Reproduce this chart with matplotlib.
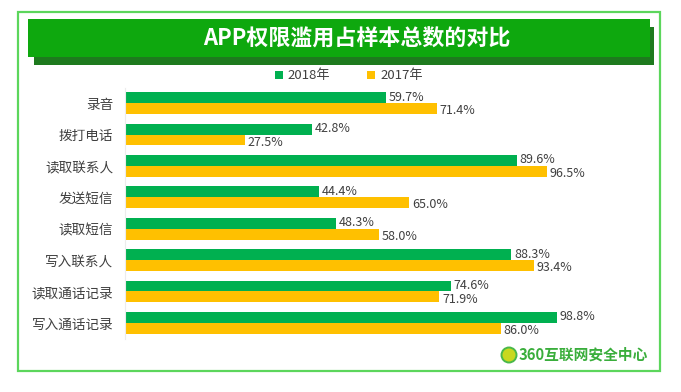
import matplotlib.pyplot as plt
from matplotlib.patches import Rectangle, Circle
import numpy as np

plt.rcParams['font.family'] = ['Noto Sans CJK SC', 'DejaVu Sans']

categories = ['录音', '拨打电话', '读取联系人', '发送短信', '读取短信',
              '写入联系人', '读取通话记录', '写入通话记录']
vals_2018 = [59.7, 42.8, 89.6, 44.4, 48.3, 88.3, 74.6, 98.8]
vals_2017 = [71.4, 27.5, 96.5, 65.0, 58.0, 93.4, 71.9, 86.0]
series_names = ['2018年', '2017年']

GREEN = '#00b050'
GOLD = '#ffc000'
TXT = '#404040'

W, H = 681, 392
fig = plt.figure(figsize=(W / 100, H / 100), dpi=100)


def fx(px):
    return px / W


def fy(py):
    return 1 - py / H


# frame, banner and its shadow (figure coords from pixel positions)
fig.patches.append(Rectangle((fx(18), fy(371)), fx(660 - 18), (371 - 12) / H,
                             transform=fig.transFigure, fill=False,
                             edgecolor='#5cd65c', linewidth=1.6))
fig.patches.append(Rectangle((fx(34), fy(65)), fx(654 - 34), (65 - 27) / H,
                             transform=fig.transFigure, facecolor='#1e7a1e',
                             edgecolor='none'))
fig.patches.append(Rectangle((fx(28), fy(57)), fx(650 - 28), (57 - 19) / H,
                             transform=fig.transFigure, facecolor='#0ea80e',
                             edgecolor='none'))
fig.text(fx(357), fy(39), 'APP权限滥用占样本总数的对比', color='white',
         fontsize=15.8, fontweight='bold', ha='center', va='center')

# bars
top, bottom = 87.5, 338.5
ax = fig.add_axes([fx(124.5), fy(bottom), 4.38 * 120 / W, (bottom - top) / H])
y = np.arange(len(categories))
h = 0.345
ax.barh(y - h / 2, vals_2018, height=h, color=GREEN, label=series_names[0])
ax.barh(y + h / 2, vals_2017, height=h, color=GOLD, label=series_names[1])

for yi, v in zip(y, vals_2018):
    ax.text(v + 0.6, yi - h / 2 - 0.02, f'{v:.1f}%', va='center', ha='left',
            fontsize=9, color=TXT)
for yi, v in zip(y, vals_2017):
    ax.text(v + 0.6, yi + h / 2 + 0.07, f'{v:.1f}%', va='center', ha='left',
            fontsize=9, color=TXT)

ax.set_xlim(0, 120)
ax.set_ylim(len(categories) - 0.5, -0.5)
ax.set_yticks(y)
ax.set_yticklabels(categories, fontsize=9.8, color=TXT)
ax.set_xticks([])
ax.tick_params(axis='y', length=0, pad=8)
for s in ['top', 'right', 'bottom']:
    ax.spines[s].set_visible(False)
ax.spines['left'].set_color('#ececec')
ax.spines['left'].set_linewidth(0.8)
ax.patch.set_alpha(0)

# legend
leg = fig.legend(loc='center', bbox_to_anchor=(fx(349), fy(76)), ncol=2,
                 frameon=False, fontsize=9.5, handlelength=0.6, handleheight=0.6,
                 columnspacing=2.8, handletextpad=0.4)
for t in leg.get_texts():
    t.set_color(TXT)

# 360 logo
fig.patches.append(Circle((5.09, (H - 355) / 100), 0.075,
                          transform=fig.dpi_scale_trans,
                          facecolor='#c8d820', edgecolor='#49b84a', linewidth=1.4))
fig.text(fx(519), fy(355), '360互联网安全中心', color='#3aae3c', fontsize=10.6,
         fontweight='bold', ha='left', va='center')

fig.savefig('out.png', dpi=100)
